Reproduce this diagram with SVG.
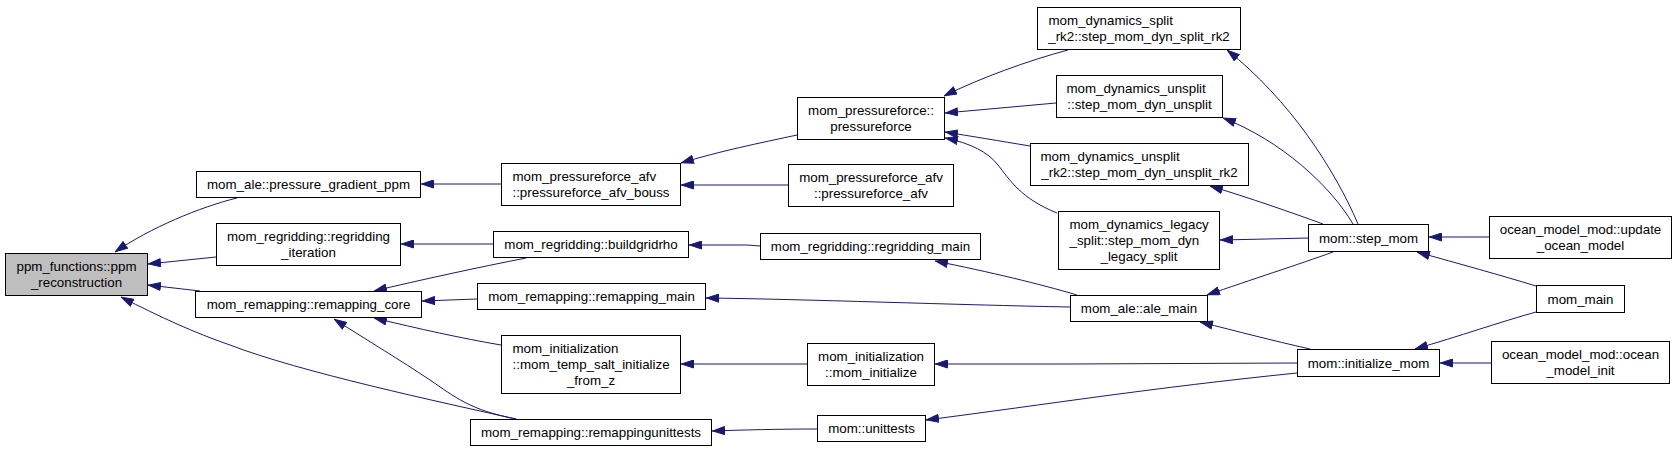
<svg xmlns="http://www.w3.org/2000/svg" width="1677" height="451" viewBox="0 0 1677 451">
<style>
.n rect{fill:#fff;stroke:#000;stroke-width:1}
.n text{font-family:"Liberation Sans",Arial,Helvetica,sans-serif;font-size:13.33px;fill:#000;text-anchor:middle}
.n text.l{text-anchor:start}
#ppm rect{fill:#bfbfbf}
.e path{fill:none;stroke:#191970;stroke-width:1;marker-end:url(#ah)}
</style>
<defs>
<marker id="ah" viewBox="0 0 13 9" markerWidth="13" markerHeight="9" markerUnits="userSpaceOnUse" refX="13" refY="4.5" orient="auto">
<path d="M0.5,0.5 L12.5,4.5 L0.5,8.5 z" fill="#191970" stroke="#191970" stroke-width="1"/>
</marker>
</defs>
<rect width="1677" height="451" fill="#fff"/>
<g class="e" id="edges">
<path d="M237,198 C200,207 150,228 115,252"/>
<path d="M216,257 L148,264"/>
<path d="M200,291 L148,285"/>
<path d="M516,419 C440,402 300,372 230,345 C195,333 160,317 121,297"/>
<path d="M501,184 L421,184"/>
<path d="M493,244 L401,244"/>
<path d="M526,258 C480,267 420,280 374,291"/>
<path d="M477,299 L422,301"/>
<path d="M501,345 C460,338 420,329 374,318"/>
<path d="M516,419 C470,410 455,397 430,380 C400,360 370,342 334,319"/>
<path d="M797,135 C760,143 720,151 681,163"/>
<path d="M788,185 L681,185"/>
<path d="M760,246 L747,245 L689,245"/>
<path d="M1070,307 C960,305 800,299 706,298"/>
<path d="M807,364 L681,364"/>
<path d="M817,429 C780,429 740,430 712,431"/>
<path d="M1068,50 C1030,60 980,78 944,96"/>
<path d="M1056,103 L945,113"/>
<path d="M1030,146 C1000,141 970,136 945,132"/>
<path d="M1057,213 C1020,198 1010,180 998,165 C988,152 970,143 945,138"/>
<path d="M1077,295 C1040,284 990,272 935,261"/>
<path d="M1297,363 L1067,364 L935,364"/>
<path d="M1297,373 C1150,388 1050,404 926,420"/>
<path d="M1358,224 C1335,170 1290,100 1227,50"/>
<path d="M1353,224 C1330,185 1280,140 1223,118"/>
<path d="M1323,224 C1290,212 1250,198 1210,186"/>
<path d="M1308,238 L1267,239 L1220,240"/>
<path d="M1333,252 C1300,264 1250,280 1207,295"/>
<path d="M1310,349 C1270,340 1240,332 1200,322"/>
<path d="M1489,237 L1429,237"/>
<path d="M1536,286 C1500,275 1460,264 1417,252"/>
<path d="M1536,312 C1500,322 1460,336 1415,349"/>
<path d="M1491,363 L1440,363"/>
</g>
<g class="n" id="ppm"><rect x="5.5" y="253.5" width="142" height="42"/><text x="76.5" y="271">ppm_functions::ppm</text><text x="76.5" y="287">_reconstruction</text></g>
<g class="n" id="pressure_gradient_ppm"><rect x="196.5" y="171.5" width="224" height="26"/><text x="308.5" y="189">mom_ale::pressure_gradient_ppm</text></g>
<g class="n" id="regridding_iteration"><rect x="216.5" y="223.5" width="184" height="42"/><text x="308.5" y="241">mom_regridding::regridding</text><text x="308.5" y="257">_iteration</text></g>
<g class="n" id="remapping_core"><rect x="195.5" y="291.5" width="226" height="26"/><text x="308.5" y="309">mom_remapping::remapping_core</text></g>
<g class="n" id="remappingunittests"><rect x="470.5" y="419.5" width="241" height="26"/><text x="591" y="437">mom_remapping::remappingunittests</text></g>
<g class="n" id="afv_bouss"><rect x="501.5" y="163.5" width="179" height="42"/><text class="l" x="512.5" y="181">mom_pressureforce_afv</text><text x="591" y="197">::pressureforce_afv_bouss</text></g>
<g class="n" id="buildgridrho"><rect x="493.5" y="231.5" width="195" height="26"/><text x="591" y="249">mom_regridding::buildgridrho</text></g>
<g class="n" id="remapping_main"><rect x="477.5" y="283.5" width="228" height="26"/><text x="591.5" y="301">mom_remapping::remapping_main</text></g>
<g class="n" id="temp_salt"><rect x="501.5" y="335.5" width="179" height="58"/><text class="l" x="512.5" y="353">mom_initialization</text><text class="l" x="512.5" y="369">::mom_temp_salt_initialize</text><text x="591" y="385">_from_z</text></g>
<g class="n" id="pressureforce"><rect x="797.5" y="97.5" width="147" height="42"/><text x="871" y="115">mom_pressureforce::</text><text x="871" y="131">pressureforce</text></g>
<g class="n" id="afv"><rect x="788.5" y="164.5" width="165" height="42"/><text x="871" y="182">mom_pressureforce_afv</text><text x="871" y="198">::pressureforce_afv</text></g>
<g class="n" id="regridding_main"><rect x="760.5" y="233.5" width="220" height="26"/><text x="870.5" y="251">mom_regridding::regridding_main</text></g>
<g class="n" id="mom_initialize"><rect x="807.5" y="343.5" width="127" height="42"/><text x="871" y="361">mom_initialization</text><text x="871" y="377">::mom_initialize</text></g>
<g class="n" id="unittests"><rect x="817.5" y="415.5" width="108" height="26"/><text x="871.5" y="433">mom::unittests</text></g>
<g class="n" id="split_rk2"><rect x="1037.5" y="7.5" width="203" height="42"/><text class="l" x="1048.5" y="25">mom_dynamics_split</text><text x="1139" y="41">_rk2::step_mom_dyn_split_rk2</text></g>
<g class="n" id="unsplit"><rect x="1056.5" y="75.5" width="166" height="42"/><text class="l" x="1066.5" y="93">mom_dynamics_unsplit</text><text x="1139.5" y="109">::step_mom_dyn_unsplit</text></g>
<g class="n" id="unsplit_rk2"><rect x="1030.5" y="143.5" width="218" height="42"/><text class="l" x="1040.5" y="161">mom_dynamics_unsplit</text><text x="1139.5" y="177">_rk2::step_mom_dyn_unsplit_rk2</text></g>
<g class="n" id="legacy_split"><rect x="1058.5" y="211.5" width="161" height="58"/><text class="l" x="1069.5" y="229">mom_dynamics_legacy</text><text class="l" x="1069.5" y="245">_split::step_mom_dyn</text><text x="1139" y="261">_legacy_split</text></g>
<g class="n" id="ale_main"><rect x="1070.5" y="295.5" width="137" height="26"/><text x="1139" y="313">mom_ale::ale_main</text></g>
<g class="n" id="step_mom"><rect x="1308.5" y="224.5" width="120" height="27"/><text x="1368.5" y="242.5">mom::step_mom</text></g>
<g class="n" id="initialize_mom"><rect x="1297.5" y="349.5" width="142" height="27"/><text x="1368.5" y="367.5">mom::initialize_mom</text></g>
<g class="n" id="update_ocean_model"><rect x="1489.5" y="216.5" width="182" height="42"/><text x="1580.5" y="234">ocean_model_mod::update</text><text x="1580.5" y="250">_ocean_model</text></g>
<g class="n" id="mom_main"><rect x="1536.5" y="285.5" width="88" height="27"/><text x="1580.5" y="303.5">mom_main</text></g>
<g class="n" id="ocean_model_init"><rect x="1491.5" y="341.5" width="178" height="42"/><text x="1580.5" y="359">ocean_model_mod::ocean</text><text x="1580.5" y="375">_model_init</text></g>
</svg>
